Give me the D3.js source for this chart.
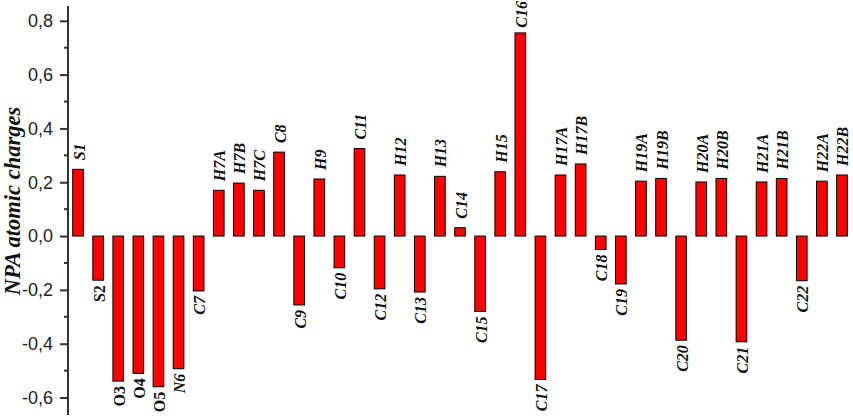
<!DOCTYPE html>
<html>
<head>
<meta charset="utf-8">
<script src="https://cdn.jsdelivr.net/npm/d3@7"></script>
<style>
  body { margin: 0; background: #fff; }
  svg { display: block; }
</style>
</head>
<body>
<svg id="chart" width="853" height="416"></svg>
<script>
// atoms along the x axis
const atoms = ['S1', 'S2', 'O3', 'O4', 'O5', 'N6', 'C7', 'H7A', 'H7B', 'H7C', 'C8', 'C9', 'H9',
  'C10', 'C11', 'C12', 'H12', 'C13', 'H13', 'C14', 'C15', 'H15', 'C16', 'C17', 'H17A', 'H17B',
  'C18', 'C19', 'H19A', 'H19B', 'C20', 'H20A', 'H20B', 'C21', 'H21A', 'H21B', 'C22', 'H22A', 'H22B'];
// NPA charges
const charges = [0.248, -0.164, -0.539, -0.510, -0.560, -0.493, -0.204, 0.170, 0.197, 0.170, 0.312, -0.256, 0.212,
  -0.118, 0.325, -0.196, 0.227, -0.208, 0.222, 0.031, -0.280, 0.239, 0.755, -0.533, 0.227, 0.268,
  -0.050, -0.178, 0.204, 0.214, -0.387, 0.201, 0.214, -0.393, 0.201, 0.214, -0.166, 0.204, 0.227];
const majorTicks = [-0.6, -0.4, -0.2, 0.0, 0.2, 0.4, 0.6, 0.8];
const minorTicks = [-0.5, -0.3, -0.1, 0.1, 0.3, 0.5, 0.7];
const uprightLabels = ['S2', 'O3', 'O4', 'O5'];

const svg = d3.select('#chart');
const axisX = 68;

const x = d3.scaleBand()
  .domain(atoms)
  .range([axisX, 852])
  .paddingInner(0.47)
  .paddingOuter(0.234);

const y = d3.scaleLinear()
  .domain([-0.665, 0.855])
  .range([415, 6]);

const fmt = d => d.toFixed(1).replace('.', ',');

// bars
svg.append('g')
  .selectAll('rect')
  .data(charges)
  .join('rect')
  .attr('x', (d, i) => x(atoms[i]))
  .attr('y', d => y(Math.max(0, d)))
  .attr('width', x.bandwidth())
  .attr('height', d => Math.abs(y(d) - y(0)))
  .attr('fill', '#ff0000')
  .attr('stroke', '#000')
  .attr('stroke-width', 1);

// atom labels
const labels = svg.append('g')
  .selectAll('text')
  .data(charges)
  .join('text')
  .attr('text-anchor', d => d >= 0 ? 'start' : 'end')
  .attr('dominant-baseline', 'central')
  .attr('font-family', '"Liberation Serif", "Times New Roman", serif')
  .attr('font-weight', 'bold')
  .attr('font-style', (d, i) => uprightLabels.includes(atoms[i]) ? 'normal' : 'italic')
  .attr('font-size', 16)
  .attr('fill', '#111')
  .text((d, i) => atoms[i]);

labels.attr('transform', function(d, i) {
  const cx = x(atoms[i]) + x.bandwidth() / 2 + 1;
  let cy = d >= 0 ? y(d) - 9 : y(d) + 5;
  // keep the tallest label inside the picture
  if (d >= 0) cy = Math.max(cy, this.getComputedTextLength() + 1);
  return `translate(${cx},${cy}) rotate(-90)`;
});

// y axis
const axis = d3.axisLeft(y)
  .tickValues(majorTicks)
  .tickFormat(fmt)
  .tickSize(8)
  .tickPadding(7);

const gAxis = svg.append('g')
  .attr('transform', `translate(${axisX},0)`)
  .call(axis);

gAxis.select('.domain')
  .attr('d', `M0,${y.range()[0]}V${y.range()[1]}`)
  .attr('stroke', '#333')
  .attr('stroke-width', 2);
gAxis.selectAll('.tick line').attr('stroke', '#333').attr('stroke-width', 2);
gAxis.selectAll('.tick text')
  .attr('font-family', '"Liberation Sans", Arial, sans-serif')
  .attr('font-size', 18)
  .attr('fill', '#222');

gAxis.append('g')
  .selectAll('line')
  .data(minorTicks)
  .join('line')
  .attr('x1', -4)
  .attr('x2', 0)
  .attr('y1', d => y(d))
  .attr('y2', d => y(d))
  .attr('stroke', '#333')
  .attr('stroke-width', 2);

// axis title
svg.append('text')
  .attr('transform', 'translate(20,201) rotate(-90)')
  .attr('text-anchor', 'middle')
  .attr('font-family', '"Liberation Serif", "Times New Roman", serif')
  .attr('font-weight', 'bold')
  .attr('font-style', 'italic')
  .attr('font-size', 22.5)
  .attr('fill', '#111')
  .text('NPA atomic charges');
</script>
</body>
</html>
